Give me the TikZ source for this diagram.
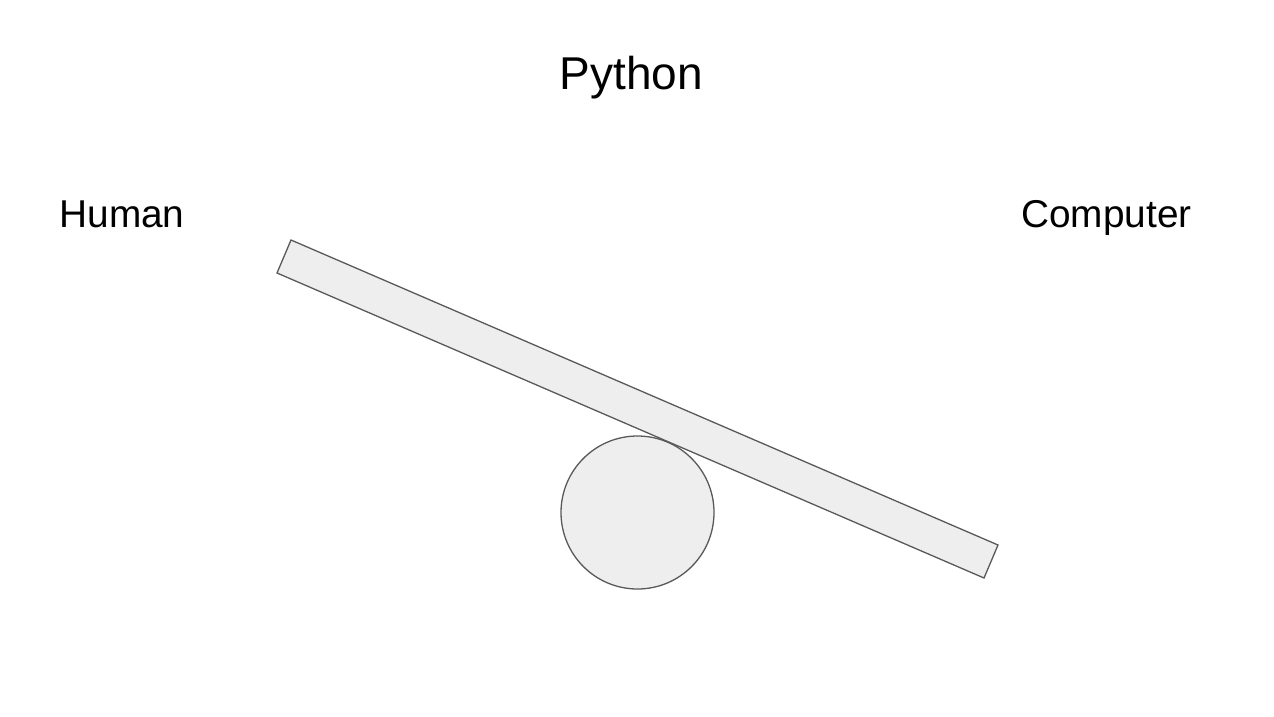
\documentclass[tikz,border=0pt]{standalone}
\usepackage{fontspec}
\setmainfont{Liberation Sans}
\definecolor{shapefill}{HTML}{EEEEEE}
\definecolor{shapeline}{HTML}{595959}
\tikzset{
  part/.style={fill=shapefill, draw=shapeline, line width=1.3pt, line join=miter},
  label/.style={inner sep=0pt, anchor=base, text=black},
}
\begin{document}
\begin{tikzpicture}[x=1pt,y=-1pt]
\useasboundingbox (0,0) rectangle (1274,716);
\node[label, font=\fontsize{46}{50}\selectfont] (title) at (631.5,89) {Python};
\node[label, font=\fontsize{38.8}{44}\selectfont] (human) at (122,227) {Human};
\node[label, font=\fontsize{38.8}{44}\selectfont] (computer) at (1106.5,227) {Computer};
\node[part, circle, minimum size=153pt, inner sep=0pt] (fulcrum) at (637.5,512.5) {};
\coordinate (p1) at (291,240);
\coordinate (p2) at (277,273);
\coordinate (p3) at (984,578);
\coordinate (p4) at (998,545);
\draw[part] (p1) -- (p2) -- (p3) -- (p4) -- cycle;
\end{tikzpicture}
\end{document}
